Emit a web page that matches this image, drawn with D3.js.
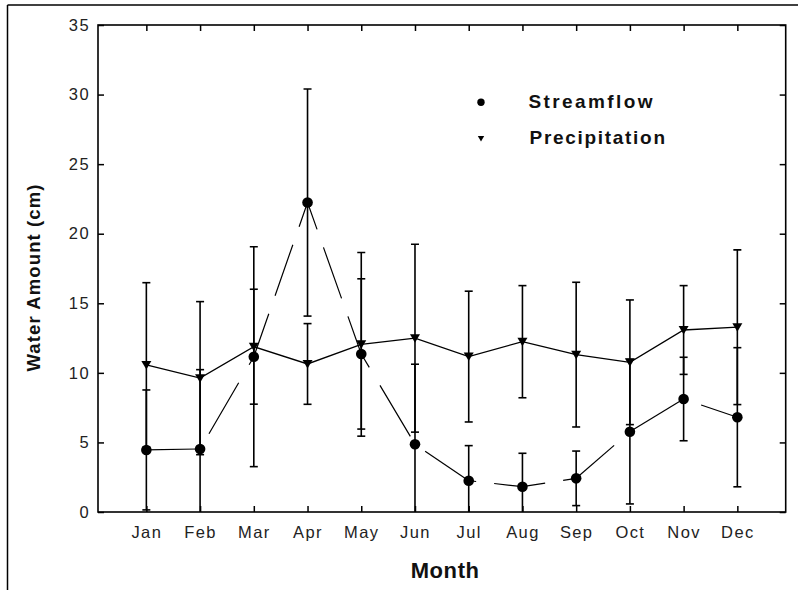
<!DOCTYPE html>
<html>
<head>
<meta charset="utf-8">
<script src="https://cdn.jsdelivr.net/npm/d3@7"></script>
<style>
  html, body { margin: 0; padding: 0; background: #fff; }
  svg { display: block; }
  text { font-family: "Liberation Sans", Arial, sans-serif; }
</style>
</head>
<body>
<script>
// ---- data ----
const months = ["Jan","Feb","Mar","Apr","May","Jun","Jul","Aug","Sep","Oct","Nov","Dec"];
const streamflow    = [4.46, 4.53, 11.16, 22.24, 11.36, 4.87, 2.25, 1.82, 2.42, 5.77, 8.12, 6.81];
const streamflowErr = [4.31, 5.70, 7.90, 8.16, 5.40, 5.75, 2.52, 2.40, 1.96, 5.19, 3.00, 5.00];
const precipitation    = [10.57, 9.62, 11.88, 10.64, 12.05, 12.49, 11.17, 12.24, 11.31, 10.76, 13.08, 13.28];
const precipitationErr = [5.91, 5.50, 4.13, 2.90, 6.60, 6.75, 4.70, 4.03, 5.20, 4.48, 3.19, 5.56];
const yTicks = [0, 5, 10, 15, 20, 25, 30, 35];
const seriesNames = ["Streamflow", "Precipitation"];

// ---- layout ----
const W = 798, H = 590;
const L = 98, R = 785.7, T = 25, B = 512;

const svg = d3.select("body").append("svg").attr("width", W).attr("height", H);

// outer frame (top & left edges visible)
svg.append("line").attr("x1", 7.5).attr("y1", 5).attr("x2", W).attr("y2", 5)
  .attr("stroke", "#000").attr("stroke-width", 1.5);
svg.append("line").attr("x1", 7.5).attr("y1", 5).attr("x2", 7.5).attr("y2", H)
  .attr("stroke", "#000").attr("stroke-width", 1.5);

const x = d3.scaleLinear().domain([0.1, 12.9]).range([L, R]);
const y = d3.scaleLinear().domain([0, 35]).range([B, T]);
const idx = months.map((m, i) => i + 1);

svg.append("defs").append("clipPath").attr("id", "plotclip")
  .append("rect").attr("x", L).attr("y", T).attr("width", R - L).attr("height", B - T);

// axes
const tickFont = g => g.selectAll("text")
  .attr("font-size", "16.5px").attr("fill", "#222")
  .style("letter-spacing", "1.4px");

const gL = svg.append("g").attr("transform", `translate(${L},0)`)
  .call(d3.axisLeft(y).tickValues(yTicks).tickSize(-6).tickSizeOuter(0).tickPadding(8));
gL.call(tickFont);
const gR = svg.append("g").attr("transform", `translate(${R},0)`)
  .call(d3.axisRight(y).tickValues(yTicks).tickSize(-6).tickSizeOuter(0).tickFormat(""));
const gB = svg.append("g").attr("transform", `translate(0,${B})`)
  .call(d3.axisBottom(x).tickValues(idx).tickFormat((d) => months[d - 1]).tickSize(-6).tickSizeOuter(0).tickPadding(14));
gB.call(tickFont);
const gT = svg.append("g").attr("transform", `translate(0,${T})`)
  .call(d3.axisTop(x).tickValues(idx).tickSize(-6).tickSizeOuter(0).tickFormat(""));

[gL, gR, gB, gT].forEach(g => {
  g.select(".domain").remove();
  g.selectAll(".tick line").attr("stroke", "#000").attr("stroke-width", 1.5);
});

// plot frame
svg.append("rect").attr("x", L).attr("y", T).attr("width", R - L).attr("height", B - T)
  .attr("fill", "none").attr("stroke", "#000").attr("stroke-width", 1.6);

const plot = svg.append("g").attr("clip-path", "url(#plotclip)");

// error bars
function errorBars(vals, errs, cls) {
  const g = plot.append("g").attr("class", cls);
  const capW = 4;
  vals.forEach((v, i) => {
    const cx = x(i + 1);
    const lo = v - errs[i], hi = v + errs[i];
    g.append("line").attr("x1", cx).attr("x2", cx).attr("y1", y(lo)).attr("y2", y(hi))
      .attr("stroke", "#000").attr("stroke-width", 1.6);
    [lo, hi].forEach(e => {
      g.append("line").attr("x1", cx - capW).attr("x2", cx + capW).attr("y1", y(e)).attr("y2", y(e))
        .attr("stroke", "#000").attr("stroke-width", 1.6);
    });
  });
}
errorBars(precipitation, precipitationErr, "err-precip");
errorBars(streamflow, streamflowErr, "err-stream");

// precipitation: solid line
const line = d3.line().x((d, i) => x(i + 1)).y(d => y(d));
plot.append("path").datum(precipitation).attr("d", line)
  .attr("fill", "none").attr("stroke", "#000").attr("stroke-width", 1.3);

// streamflow: dashed line, dash pattern counted in pixel steps along the major axis
const DASH = 51, GAP = 18, PERIOD = DASH + GAP;
let steps = 0;
const gs = plot.append("g").attr("class", "stream-line");
for (let i = 0; i < streamflow.length - 1; i++) {
  const x0 = x(i + 1), y0 = y(streamflow[i]);
  const x1 = x(i + 2), y1 = y(streamflow[i + 1]);
  const dx = x1 - x0, dy = y1 - y0;
  const len = Math.hypot(dx, dy);
  const n = Math.max(Math.abs(dx), Math.abs(dy));
  const f = len / n;
  gs.append("path").attr("d", `M${x0},${y0}L${x1},${y1}`)
    .attr("fill", "none").attr("stroke", "#000").attr("stroke-width", 1.2)
    .attr("stroke-dasharray", `${DASH * f},${GAP * f}`)
    .attr("stroke-dashoffset", (steps % PERIOD) * f);
  steps += n;
}

// markers
const tri = (s) => `M${-s},${-s * 0.8}L${s},${-s * 0.8}L0,${s * 0.9}Z`;
plot.selectAll("circle.stream").data(streamflow).join("circle").attr("class", "stream")
  .attr("cx", (d, i) => x(i + 1)).attr("cy", d => y(d)).attr("r", 5.3).attr("fill", "#000");
plot.selectAll("path.precip").data(precipitation).join("path").attr("class", "precip")
  .attr("transform", (d, i) => `translate(${x(i + 1)},${y(d)})`)
  .attr("d", tri(5)).attr("fill", "#000");

// legend
const leg = svg.append("g");
leg.append("circle").attr("cx", 481).attr("cy", 102.3).attr("r", 3.7).attr("fill", "#000");
leg.append("path").attr("transform", "translate(481,138.5)").attr("d", tri(3.2)).attr("fill", "#000");
leg.append("text").attr("x", 528.5).attr("y", 107.5).text(seriesNames[0])
  .attr("font-size", "19px").attr("font-weight", "bold").attr("fill", "#111")
  .attr("textLength", 124).attr("lengthAdjust", "spacing");
leg.append("text").attr("x", 529.5).attr("y", 143.8).text(seriesNames[1])
  .attr("font-size", "19px").attr("font-weight", "bold").attr("fill", "#111")
  .attr("textLength", 135.5).attr("lengthAdjust", "spacing");

// axis titles
svg.append("text").attr("x", 410.7).attr("y", 577.5).text("Month")
  .attr("font-size", "22px").attr("font-weight", "bold").attr("fill", "#111")
  .attr("textLength", 68.3).attr("lengthAdjust", "spacing");
svg.append("text").attr("transform", "translate(40,371.5) rotate(-90)").text("Water Amount (cm)")
  .attr("font-size", "18.5px").attr("font-weight", "bold").attr("fill", "#111")
  .attr("textLength", 187).attr("lengthAdjust", "spacing");
</script>
</body>
</html>
